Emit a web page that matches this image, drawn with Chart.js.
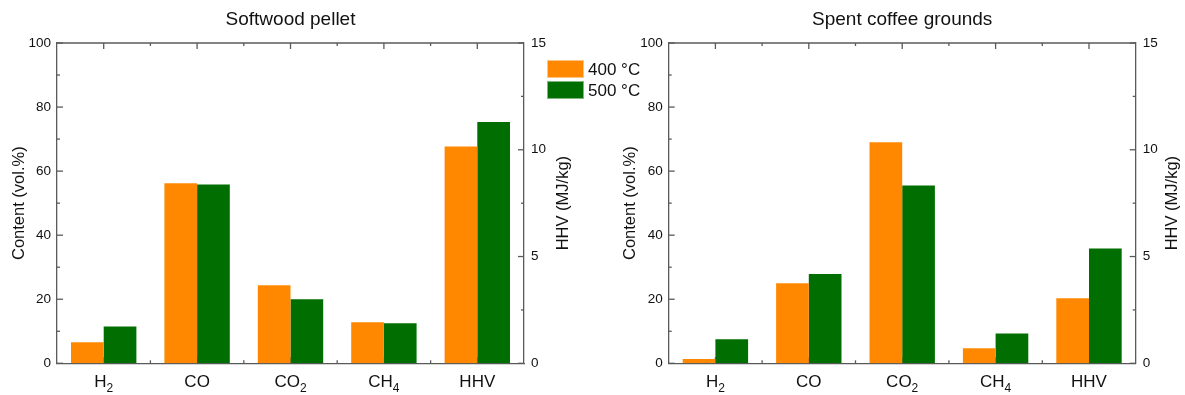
<!DOCTYPE html>
<html>
<head>
<meta charset="utf-8">
<script src="https://cdn.jsdelivr.net/npm/chart.js@4.4.1/dist/chart.umd.min.js"></script>
<style>
  body { margin: 0; background: #fff; }
  #wrap { position: relative; width: 1185px; height: 395px; overflow: hidden; }
  canvas { position: absolute; top: 0; }
</style>
</head>
<body>
<div id="wrap">
  <canvas id="softwood" width="640" height="395" style="left:0"></canvas>
  <canvas id="coffee" width="585" height="395" style="left:600px"></canvas>
</div>
<script>
// categories and values
const categories = ['H\u2082', 'CO', 'CO\u2082', 'CH\u2084', 'HHV'];
const seriesLabels = ['400 \u00b0C', '500 \u00b0C'];

// gas content (vol.%) for H2, CO, CO2, CH4
const softwoodGas400 = [6.6, 56.2, 24.4, 12.8];
const softwoodGas500 = [11.5, 55.8, 20.0, 12.5];
const coffeeGas400 = [1.35, 25.0, 69.0, 4.7];
const coffeeGas500 = [7.5, 27.9, 55.5, 9.3];

// HHV (MJ/kg), right axis
const softwoodHhv = [10.15, 11.3];
const coffeeHhv = [3.05, 5.38];

// axis ticks
const contentTicks = [0, 20, 40, 60, 80, 100];
const hhvTicks = [0, 5, 10, 15];

const orange = '#ff8800';
const green = '#006e00';
const axisColor = '#5a5a5a';
const fontFamily = "'Liberation Sans', Arial, sans-serif";
const subDigits = '\u2080\u2081\u2082\u2083\u2084\u2085\u2086\u2087\u2088\u2089';

function line(ctx, x1, y1, x2, y2) {
    ctx.beginPath();
    ctx.moveTo(x1, y1);
    ctx.lineTo(x2, y2);
    ctx.stroke();
}

// Origin style frame: top line plus inward major/minor ticks on all sides
const frameTicks = {
    id: 'frameTicks',
    beforeDatasetsDraw(chart) {
        const { ctx, chartArea: a, scales } = chart;
        ctx.save();
        ctx.strokeStyle = axisColor;
        ctx.lineWidth = 1.3;
        line(ctx, a.left, a.top, a.right, a.top);

        const sides = [
            { scale: scales.y, x: a.left, dir: 1 },
            { scale: scales.y1, x: a.right, dir: -1 }
        ];
        sides.forEach(s => {
            const vals = s.scale.ticks.map(t => t.value);
            vals.forEach((v, i) => {
                const py = s.scale.getPixelForValue(v);
                line(ctx, s.x, py, s.x + 6 * s.dir, py);
                if (i < vals.length - 1) {
                    const my = s.scale.getPixelForValue((v + vals[i + 1]) / 2);
                    line(ctx, s.x, my, s.x + 3 * s.dir, my);
                }
            });
        });

        const xs = scales.x;
        const n = xs.ticks.length;
        for (let i = 0; i < n; i++) {
            const px = xs.getPixelForTick(i);
            line(ctx, px, a.top, px, a.top + 6);
            line(ctx, px, a.bottom, px, a.bottom - 6);
            if (i < n - 1) {
                const mx = (px + xs.getPixelForTick(i + 1)) / 2;
                line(ctx, mx, a.top, mx, a.top + 3);
                line(ctx, mx, a.bottom, mx, a.bottom - 3);
            }
        }
        ctx.restore();
    },
    afterDraw(chart, args, opts) {
        const { ctx, chartArea: a, scales } = chart;
        ctx.save();
        ctx.fillStyle = '#111';
        ctx.font = '19px ' + fontFamily;
        ctx.textAlign = 'center';
        ctx.textBaseline = 'middle';
        ctx.fillText(opts.text, (a.left + a.right) / 2, 20);

        // right axis title, read bottom to top like the left one
        ctx.save();
        ctx.translate(scales.y1.right - 10, (a.top + a.bottom) / 2);
        ctx.rotate(-Math.PI / 2);
        ctx.font = '16.5px ' + fontFamily;
        ctx.fillText('HHV (MJ/kg)', 0, 0);
        ctx.restore();

        // category labels with real subscripts
        ctx.textAlign = 'left';
        ctx.textBaseline = 'alphabetic';
        chart.data.labels.forEach((lab, i) => {
            const parts = [];
            for (const ch of lab) {
                const k = subDigits.indexOf(ch);
                const sub = k >= 0;
                const c = sub ? String(k) : ch;
                const last = parts[parts.length - 1];
                if (last && last.sub === sub) last.t += c;
                else parts.push({ t: c, sub: sub });
            }
            let w = 0;
            parts.forEach(p => {
                ctx.font = (p.sub ? '12px ' : '17px ') + fontFamily;
                p.w = ctx.measureText(p.t).width;
                w += p.w;
            });
            let x = scales.x.getPixelForTick(i) - w / 2;
            parts.forEach(p => {
                ctx.font = (p.sub ? '12px ' : '17px ') + fontFamily;
                ctx.fillText(p.t, x, p.sub ? 392 : 387);
                x += p.w;
            });
        });

        if (opts.legend) {
            const ds = chart.data.datasets.slice(0, 2);
            ctx.font = '17px ' + fontFamily;
            ctx.textBaseline = 'middle';
            ds.forEach((d, i) => {
                const top = 60 + i * 21;
                ctx.fillStyle = d.backgroundColor;
                ctx.fillRect(547, top, 37, 18);
                ctx.strokeStyle = 'rgba(255,255,255,0.5)';
                ctx.lineWidth = 1;
                ctx.strokeRect(547.5, top + 0.5, 36, 17);
                ctx.fillStyle = '#111';
                ctx.fillText(d.label, 588, top + 10);
            });
        }
        ctx.restore();
    }
};

function makeChart(id, title, gas400, gas500, hhv, geom) {
    const pad = [null, null, null, null];
    const makeSet = (label, data, color, axis) => ({
        label: label,
        data: data,
        yAxisID: axis,
        backgroundColor: color,
        borderWidth: 0,
        skipNull: true,
        categoryPercentage: 0.7,
        barPercentage: 1.0
    });
    return new Chart(document.getElementById(id), {
        type: 'bar',
        data: {
            labels: categories,
            datasets: [
                makeSet(seriesLabels[0], [...gas400, null], orange, 'y'),
                makeSet(seriesLabels[1], [...gas500, null], green, 'y'),
                makeSet(seriesLabels[0], [...pad, hhv[0]], orange, 'y1'),
                makeSet(seriesLabels[1], [...pad, hhv[1]], green, 'y1')
            ]
        },
        options: {
            responsive: false,
            animation: false,
            layout: { padding: { left: geom.padLeft, right: geom.padRight, top: 43, bottom: 0 } },
            plugins: {
                legend: { display: false },
                tooltip: { enabled: false },
                frameTicks: { text: title, legend: geom.legend }
            },
            scales: {
                x: {
                    grid: { display: false, drawTicks: false },
                    border: { display: true, color: axisColor, width: 1.3 },
                    ticks: { display: false },
                    afterFit: s => { s.height = 31.7; }
                },
                y: {
                    position: 'left',
                    min: contentTicks[0],
                    max: contentTicks[contentTicks.length - 1],
                    ticks: { stepSize: contentTicks[1] - contentTicks[0], color: '#111', padding: 6,
                             font: { family: fontFamily, size: 13.5 } },
                    grid: { display: false, drawTicks: false },
                    border: { display: true, color: axisColor, width: 1.3 },
                    title: { display: true, text: 'Content (vol.%)', color: '#111',
                             font: { family: fontFamily, size: 16.5 } },
                    afterFit: s => { s.width = geom.yWidth; }
                },
                y1: {
                    position: 'right',
                    min: hhvTicks[0],
                    max: hhvTicks[hhvTicks.length - 1],
                    ticks: { stepSize: hhvTicks[1] - hhvTicks[0], color: '#111', padding: 7,
                             font: { family: fontFamily, size: 13.5 } },
                    grid: { display: false, drawTicks: false },
                    border: { display: true, color: axisColor, width: 1.3 },
                    afterFit: s => { s.width = geom.y1Width; }
                }
            }
        },
        plugins: [frameTicks]
    });
}

makeChart('softwood', 'Softwood pellet', softwoodGas400, softwoodGas500, softwoodHhv,
    { padLeft: 6, yWidth: 51, y1Width: 49, padRight: 67, legend: true });
makeChart('coffee', 'Spent coffee grounds', coffeeGas400, coffeeGas500, coffeeHhv,
    { padLeft: 17, yWidth: 51.7, y1Width: 46.3, padRight: 3, legend: false });
</script>
</body>
</html>
